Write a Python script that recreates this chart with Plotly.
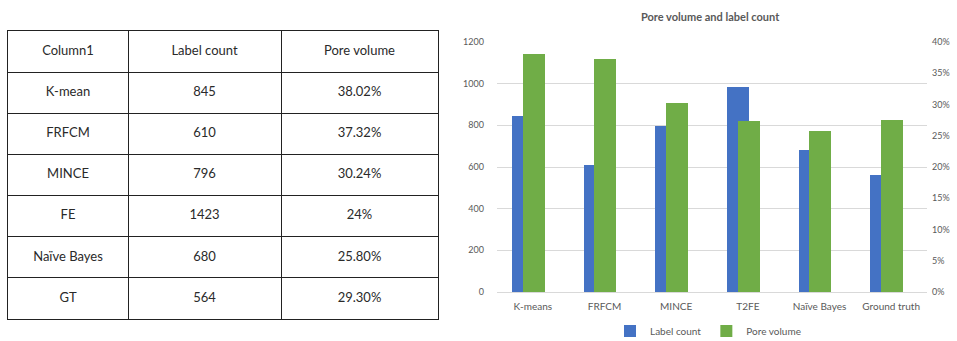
import plotly.graph_objects as go

# Table data
table_methods = ["K-mean", "FRFCM", "MINCE", "FE", "Naïve Bayes", "GT"]
table_label_count = ["845", "610", "796", "1423", "680", "564"]
table_pore_volume = ["38.02%", "37.32%", "30.24%", "24%", "25.80%", "29.30%"]
table_header = ["Column1", "Label count", "Pore volume"]

# Chart data
categories = ["K-means", "FRFCM", "MINCE", "T2FE", "Naïve Bayes", "Ground truth"]
label_count = [845, 610, 796, 985, 680, 564]
pore_volume = [0.3802, 0.3732, 0.3024, 0.273, 0.258, 0.275]

W, H = 957, 341
def px_x(x): return x / W
def px_y(y): return 1 - y / H

FONT = "Lato"
gray = "#595959"
fig = go.Figure()

# ---- table drawn on its own axes: gridlines are the cell borders ----
col_widths = [120, 153, 157]
edges = [sum(col_widths[:i]) for i in range(len(col_widths) + 1)]
centers = [(edges[i] + edges[i + 1]) / 2 for i in range(len(col_widths))]
columns = [
    [table_header[0]] + table_methods,
    [table_header[1]] + table_label_count,
    [table_header[2]] + table_pore_volume,
]
n_rows = len(table_methods) + 1
for ci, col in enumerate(columns):
    fig.add_trace(go.Scatter(
        x=[centers[ci]] * len(col), y=[r + 0.5 for r in range(len(col))],
        text=col, mode="text", textposition="middle center",
        textfont=dict(family=FONT, size=13, color="#2a2a2a"),
        hoverinfo="skip", showlegend=False, cliponaxis=False,
        xaxis="x2", yaxis="y3"))

# ---- bar chart ----
fig.add_trace(go.Bar(x=categories, y=label_count, name="Label count",
                     marker=dict(color="#4472C4", line=dict(width=0)),
                     width=0.305, offset=-0.29, yaxis="y", xaxis="x"))
fig.add_trace(go.Bar(x=categories, y=pore_volume, name="Pore volume",
                     marker=dict(color="#70AD47", line=dict(width=0)),
                     width=0.305, offset=-0.14, yaxis="y2", xaxis="x"))

border = "#222222"
fig.update_layout(
    width=W, height=H, margin=dict(l=0, r=0, t=0, b=0, autoexpand=False),
    paper_bgcolor="white", plot_bgcolor="white",
    barmode="overlay", bargap=0,
    font=dict(family=FONT, color=gray),
    xaxis=dict(domain=[px_x(497), px_x(927)], type="category",
               showline=True, linecolor="#d9d9d9", linewidth=1,
               ticks="", tickfont=dict(size=10, color=gray),
               ticklabelstandoff=5, showgrid=False, automargin=False),
    yaxis=dict(domain=[px_y(292), px_y(42)], range=[0, 1200], dtick=200,
               showgrid=True, gridcolor="#d9d9d9", gridwidth=1,
               zeroline=False, showline=False, ticks="",
               tickfont=dict(size=9, color=gray), ticklabelstandoff=12,
               automargin=False),
    yaxis2=dict(overlaying="y", side="right", range=[0, 0.4], dtick=0.05,
                tickformat=".0%", showgrid=False, zeroline=False,
                showline=False, ticks="",
                tickfont=dict(size=9, color=gray), ticklabelstandoff=4,
                automargin=False),
    xaxis2=dict(domain=[px_x(8), px_x(438)], range=[edges[0], edges[-1]],
                tickvals=edges[1:-1], showticklabels=False, ticks="",
                showgrid=True, gridcolor=border, gridwidth=1.3,
                zeroline=False, showline=True, mirror=True,
                linecolor=border, linewidth=1.3, fixedrange=True,
                automargin=False, anchor="y3"),
    yaxis3=dict(domain=[px_y(319), px_y(31)], range=[n_rows, 0],
                tickvals=list(range(1, n_rows)), showticklabels=False,
                ticks="", showgrid=True, gridcolor=border, gridwidth=1.3,
                zeroline=False, showline=True, mirror=True,
                linecolor=border, linewidth=1.3, fixedrange=True,
                automargin=False, anchor="x2"),
    showlegend=True,
    legend=dict(orientation="h", x=px_x(708), xanchor="center",
                y=px_y(331), yanchor="middle",
                font=dict(size=10, color=gray), bgcolor="rgba(0,0,0,0)",
                itemwidth=30),
    annotations=[dict(text="<b>Pore volume and label count</b>", x=px_x(710),
                      y=px_y(17), xref="paper", yref="paper", showarrow=False,
                      xanchor="center", yanchor="middle",
                      font=dict(size=11, color=gray))],
)

fig.write_html("out.html")
